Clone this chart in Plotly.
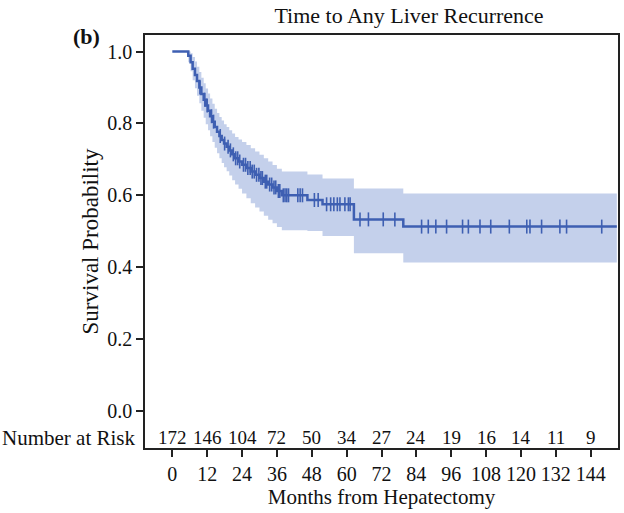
import numpy as np
import plotly.graph_objects as go

# Kaplan-Meier step data (months, survival)
step_times = [0, 5.5, 6.3, 7.0, 7.8, 8.5, 9.3, 10.0, 10.8, 11.5, 12.3, 13.0, 13.8, 14.6,
              15.4, 16.2, 17.0, 17.8, 18.7, 19.6, 20.6, 21.6, 22.8, 24.0, 25.5, 27.0,
              28.5, 30.0, 31.5, 33.0, 34.5, 36.0, 37.7, 46.5, 51.7, 62.5, 79.5]
survival = [1.0, 0.988, 0.970, 0.952, 0.935, 0.918, 0.900, 0.882, 0.866, 0.850, 0.835,
            0.820, 0.805, 0.790, 0.777, 0.765, 0.754, 0.744, 0.735, 0.725, 0.714, 0.703,
            0.694, 0.685, 0.676, 0.666, 0.657, 0.648, 0.638, 0.630, 0.622, 0.612, 0.600,
            0.587, 0.575, 0.533, 0.513]
ci_upper = [1.0, 1.0, 0.995, 0.985, 0.972, 0.958, 0.943, 0.927, 0.912, 0.897, 0.883,
            0.869, 0.855, 0.841, 0.829, 0.818, 0.808, 0.798, 0.790, 0.781, 0.772, 0.762,
            0.755, 0.748, 0.740, 0.731, 0.722, 0.713, 0.703, 0.694, 0.684, 0.674, 0.666,
            0.658, 0.647, 0.619, 0.605]
ci_lower = [1.0, 0.970, 0.945, 0.920, 0.898, 0.877, 0.856, 0.835, 0.816, 0.798, 0.781,
            0.764, 0.748, 0.732, 0.717, 0.703, 0.690, 0.678, 0.667, 0.655, 0.642, 0.630,
            0.618, 0.605, 0.592, 0.578, 0.566, 0.555, 0.543, 0.532, 0.522, 0.512, 0.503,
            0.501, 0.487, 0.439, 0.413]
last_followup = 153.0

# censored observation times (months)
censor_times = [9.5, 11.2, 12.0, 13.5, 14.2, 16.5, 18.0, 19.2, 20.0, 21.0, 21.8, 22.5,
                23.2, 24.5, 25.2, 26.0, 26.8, 27.5, 28.2, 29.0, 29.8, 30.5, 31.0, 32.0,
                32.5, 33.5, 34.2, 35.0, 35.6, 36.5, 37.0, 38.2, 38.8, 39.4, 40.0, 43.2,
                44.0, 44.8, 48.9, 50.2, 53.1, 54.5, 55.6, 56.8, 57.7, 59.4, 60.6, 61.2,
                64.6, 67.5, 72.6, 76.6, 85.8, 88.1, 90.7, 94.4, 99.9, 101.9, 105.9,
                109.6, 116.0, 122.0, 123.1, 127.1, 133.4, 135.7, 147.8]

# number at risk table
risk_months = [0, 12, 24, 36, 48, 60, 72, 84, 96, 108, 120, 132, 144]
risk_counts = [172, 146, 104, 72, 50, 34, 27, 24, 19, 16, 14, 11, 9]

LINE = "#3e5fb2"
BAND = "rgba(186,200,232,0.85)"
FONT = "Liberation Serif, Times New Roman, serif"
INK = "#111"

t_ext = step_times + [last_followup]
s_ext = survival + [survival[-1]]
u_ext = ci_upper + [ci_upper[-1]]
l_ext = ci_lower + [ci_lower[-1]]

idx = np.searchsorted(np.array(step_times), np.array(censor_times), side="right") - 1
censor_surv = [survival[i] for i in idx]

fig = go.Figure()
fig.add_trace(go.Scatter(x=t_ext, y=l_ext, mode="lines", line=dict(width=0, shape="hv"),
                         hoverinfo="skip", showlegend=False))
fig.add_trace(go.Scatter(x=t_ext, y=u_ext, mode="lines", line=dict(width=0, shape="hv"),
                         fill="tonexty", fillcolor=BAND, hoverinfo="skip", showlegend=False))
fig.add_trace(go.Scatter(x=t_ext, y=s_ext, mode="lines",
                         line=dict(color=LINE, width=2.5, shape="hv"), showlegend=False))
fig.add_trace(go.Scatter(x=censor_times, y=censor_surv, mode="markers",
                         marker=dict(symbol="line-ns", size=10,
                                     line=dict(color=LINE, width=1.6)),
                         showlegend=False))

annotations = []
for m, c in zip(risk_months, risk_counts):
    annotations.append(dict(x=m, y=-0.074, xref="x", yref="y", text=str(c),
                            showarrow=False, font=dict(family=FONT, size=19, color=INK)))
annotations.append(dict(x=-0.017, y=-0.074, xref="paper", yref="y", text="Number at Risk",
                        xanchor="right", showarrow=False,
                        font=dict(family=FONT, size=21, color=INK)))
annotations.append(dict(x=(86 - 145) / 473, y=(448 - 36) / 413, xref="paper", yref="paper",
                        text="<b>(b)</b>", showarrow=False, xanchor="center", yanchor="middle",
                        font=dict(family=FONT, size=22, color=INK)))

fig.update_layout(
    width=624, height=513,
    margin=dict(l=145, r=6, t=35, b=65),
    paper_bgcolor="white", plot_bgcolor="white",
    font=dict(family=FONT, size=20, color=INK),
    title=dict(text="Time to Any Liver Recurrence", x=409 / 624, xanchor="center",
               y=1 - 15 / 513, yanchor="middle", font=dict(family=FONT, size=22, color=INK)),
    xaxis=dict(range=[-9.4, 153.4], tickvals=risk_months, ticks="outside", ticklen=7,
               tickwidth=1.5, tickcolor="#222", showgrid=False, zeroline=False,
               showline=True, mirror=True, linecolor="#222", linewidth=1.5,
               tickfont=dict(family=FONT, size=20), automargin=False,
               title=dict(text="Months from Hepatectomy", standoff=0,
                          font=dict(family=FONT, size=21))),
    yaxis=dict(range=[-0.103, 1.046], tickvals=[0, 0.2, 0.4, 0.6, 0.8, 1.0],
               ticktext=["0.0", "0.2", "0.4", "0.6", "0.8", "1.0"],
               ticks="outside", ticklen=7, tickwidth=1.5, tickcolor="#222",
               showgrid=False, zeroline=False, showline=True, mirror=True,
               linecolor="#222", linewidth=1.5, tickfont=dict(family=FONT, size=20),
               automargin=False,
               title=dict(text="Survival Probability", standoff=2,
                          font=dict(family=FONT, size=23))),
    annotations=annotations,
)

fig.write_html("out.html", config={"displayModeBar": False},
               post_script="document.body.style.margin='0px';")
